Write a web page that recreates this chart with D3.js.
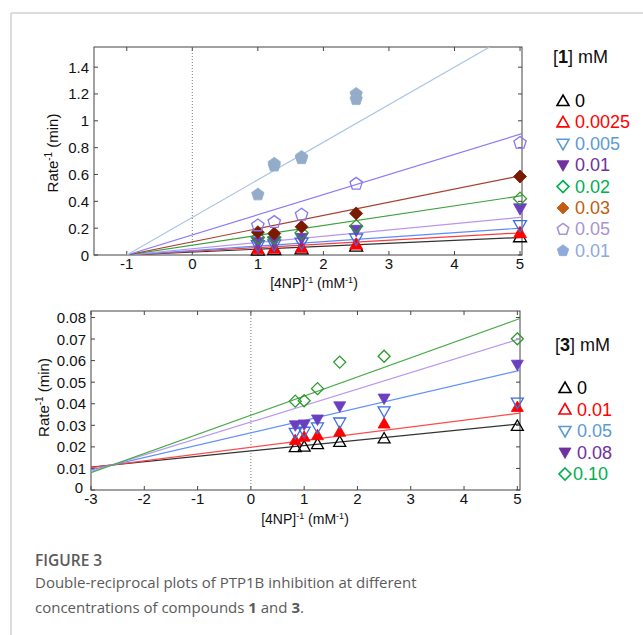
<!DOCTYPE html>
<html>
<head>
<meta charset="utf-8">
<script src="https://cdn.jsdelivr.net/npm/d3@7"></script>
<style>
  body { margin: 0; background: #fff; }
  svg { display: block; }
</style>
</head>
<body>
<svg id="chart" width="643" height="635"></svg>
<script>
// ---- data: upper panel, compound 1 ----
const xTop = [1, 1.25, 1.667, 2.5, 5];
const top_0 = [0.035, 0.04, 0.045, 0.065, 0.135];
const top_0025 = [0.045, 0.05, 0.056, 0.08, 0.165];
const top_005 = [0.07, 0.077, 0.09, 0.12, 0.22];
const top_01 = [0.095, 0.1, 0.125, 0.185, 0.345];
const top_02 = [0.13, 0.13, 0.165, 0.215, 0.42];
const top_03 = [0.17, 0.16, 0.21, 0.31, 0.585];
const top_05 = [0.22, 0.245, 0.3, 0.53, 0.835];
const top_01b = [0.45, 0.665, 0.72, 1.16, null];
const top_01b_rep = [null, 0.68, 0.73, 1.2, null];
const topLabels = ["0", "0.0025", "0.005", "0.01", "0.02", "0.03", "0.05", "0.01"];
const topSlopes = [0.0217, 0.0275, 0.0333, 0.0467, 0.0733, 0.0983, 0.15, 0.28]; // fits through x=-1
const topXTicks = [-1, 0, 1, 2, 3, 4, 5];
const topYTicks = [0, 0.2, 0.4, 0.6, 0.8, 1, 1.2, 1.4];

// ---- data: lower panel, compound 3 ----
const xBot = [0.833, 1, 1.25, 1.667, 2.5, 5];
const bot_0 = [0.0199, 0.0201, 0.0213, 0.0223, 0.0239, 0.0297];
const bot_01 = [0.0231, 0.0247, 0.0254, 0.027, 0.0308, 0.0385];
const bot_05 = [0.0265, 0.027, 0.029, 0.0313, 0.0365, 0.0405];
const bot_08 = [0.030, 0.0304, 0.0327, 0.0388, 0.0424, 0.0581];
const bot_10 = [0.0412, 0.0414, 0.047, 0.0593, 0.062, 0.0701];
const botLabels = ["0", "0.01", "0.05", "0.08", "0.10"];
const botIntercepts = [0.0181, 0.0198, 0.0265, 0.0315, 0.0347];
const botSlopes = [0.00249, 0.00314, 0.00574, 0.00764, 0.00888];
const botXTicks = [-3, -2, -1, 0, 1, 2, 3, 4, 5];
const botYTicks = [0, 0.01, 0.02, 0.03, 0.04, 0.05, 0.06, 0.07, 0.08];

const svg = d3.select("#chart");
const FONT = "'Liberation Sans', Arial, sans-serif";

// marker shapes
function shape(type, s) {
  if (type === "up") return `M0,${-s}L${s},${s * 0.75}L${-s},${s * 0.75}Z`;
  if (type === "down") return `M0,${s}L${s},${-s * 0.75}L${-s},${-s * 0.75}Z`;
  if (type === "diamond") return `M0,${-s}L${s},0L0,${s}L${-s},0Z`;
  if (type === "pent") {
    let p = d3.range(5).map(i => {
      let a = -Math.PI / 2 + i * 2 * Math.PI / 5;
      return [s * Math.cos(a), s * Math.sin(a)];
    });
    return "M" + p.map(d => d.join(",")).join("L") + "Z";
  }
}

// frame of the figure card
svg.append("line").attr("x1", 11).attr("x2", 643).attr("y1", 13).attr("y2", 13)
  .attr("stroke", "#dcdcdc").attr("stroke-width", 2);
svg.append("line").attr("x1", 11).attr("x2", 11).attr("y1", 13).attr("y2", 635)
  .attr("stroke", "#dcdcdc").attr("stroke-width", 2);

function panel(cfg) {
  const x = d3.scaleLinear().domain(cfg.xDomain).range([cfg.left, cfg.right]);
  const y = d3.scaleLinear().domain(cfg.yDomain).range([cfg.bottom, cfg.top]);
  const g = svg.append("g");
  const clipId = "clip" + cfg.id;
  svg.append("clipPath").attr("id", clipId).append("rect")
    .attr("x", cfg.left).attr("y", cfg.top)
    .attr("width", cfg.right - cfg.left).attr("height", cfg.bottom - cfg.top);

  // box
  g.append("rect").attr("x", cfg.left).attr("y", cfg.top)
    .attr("width", cfg.right - cfg.left).attr("height", cfg.bottom - cfg.top)
    .attr("fill", "none").attr("stroke", "#444").attr("stroke-width", 1);

  // ticks, inside on all sides
  const tk = 4;
  cfg.xTicks.forEach(t => {
    g.append("line").attr("x1", x(t)).attr("x2", x(t)).attr("y1", cfg.bottom).attr("y2", cfg.bottom - tk).attr("stroke", "#444");
    g.append("line").attr("x1", x(t)).attr("x2", x(t)).attr("y1", cfg.top).attr("y2", cfg.top + tk).attr("stroke", "#444");
    g.append("text").attr("x", x(t)).attr("y", cfg.bottom + 14).attr("text-anchor", "middle")
      .attr("font-family", FONT).attr("font-size", 15).attr("fill", "#111").text(t);
  });
  cfg.yTicks.forEach(t => {
    g.append("line").attr("x1", cfg.left).attr("x2", cfg.left + tk).attr("y1", y(t)).attr("y2", y(t)).attr("stroke", "#444");
    g.append("line").attr("x1", cfg.right).attr("x2", cfg.right - tk).attr("y1", y(t)).attr("y2", y(t)).attr("stroke", "#444");
    // the zero label sits just above the corner so it clears the first x label
    let dx = (t === 0 && cfg.zeroShift) ? -3 : 0;
    let dy = (t === 0 && cfg.zeroShift) ? 3 : 5.5;
    g.append("text").attr("x", cfg.left - 5 + dx).attr("y", y(t) + dy).attr("text-anchor", "end")
      .attr("font-family", FONT).attr("font-size", 15).attr("fill", "#111").text(t);
  });

  // dotted line at x = 0
  g.append("line").attr("x1", x(0)).attr("x2", x(0)).attr("y1", cfg.bottom).attr("y2", cfg.top)
    .attr("stroke", "#777").attr("stroke-width", 1).attr("stroke-dasharray", "1,2");

  // fitted lines
  const lg = g.append("g").attr("clip-path", `url(#${clipId})`);
  cfg.fits.forEach(f => {
    lg.append("line")
      .attr("x1", x(f.x0)).attr("y1", y(f.a + f.b * f.x0))
      .attr("x2", x(f.x1)).attr("y2", y(f.a + f.b * f.x1))
      .attr("stroke", f.color).attr("stroke-width", 1.2);
  });

  // points
  cfg.series.forEach(s => {
    s.values.forEach((v, i) => {
      if (v == null) return;
      g.append("path").attr("d", shape(s.shape, s.size || 5))
        .attr("transform", `translate(${x(cfg.xs[i])},${y(v)})`)
        .attr("fill", s.filled ? s.color : "none")
        .attr("stroke", s.color).attr("stroke-width", s.filled ? 0.8 : 1.3);
    });
  });

  // axis titles
  const yl = g.append("text").attr("transform", `translate(${cfg.yLabelX},${(cfg.top + cfg.bottom) / 2 + cfg.yLabelDy}) rotate(-90)`)
    .attr("text-anchor", "middle").attr("font-family", FONT).attr("font-size", 15).attr("fill", "#111");
  yl.append("tspan").text("Rate");
  yl.append("tspan").attr("font-size", 10).attr("dy", -6).text("-1");
  yl.append("tspan").attr("dy", 6).text(" (min)");

  const xl = g.append("text").attr("x", cfg.xLabelX).attr("y", cfg.xLabelY)
    .attr("text-anchor", "middle").attr("font-family", FONT).attr("font-size", 14).attr("fill", "#111");
  xl.append("tspan").text("[4NP]");
  xl.append("tspan").attr("font-size", 9).attr("dy", -5).text("-1");
  xl.append("tspan").attr("dy", 5).text(" (mM");
  xl.append("tspan").attr("font-size", 9).attr("dy", -5).text("-1");
  xl.append("tspan").attr("dy", 5).text(")");

  // legend
  const lgd = g.append("g");
  const head = lgd.append("text").attr("x", cfg.legX).attr("y", cfg.legTitleY)
    .attr("font-family", FONT).attr("font-size", 18).attr("fill", "#111");
  head.append("tspan").text("[");
  head.append("tspan").attr("font-weight", "bold").text(cfg.compound);
  head.append("tspan").text("] mM");
  cfg.legend.forEach((e, i) => {
    const yy = cfg.legY0 + i * cfg.legStep;
    lgd.append("path").attr("d", shape(e.shape, e.size || 6))
      .attr("transform", `translate(${cfg.legX + 10},${yy - 6})`)
      .attr("fill", e.filled ? e.color : "none").attr("stroke", e.color)
      .attr("stroke-width", e.filled ? 0.8 : 1.6);
    lgd.append("text").attr("x", cfg.legX + 22 + (e.dx || 0)).attr("y", yy)
      .attr("font-family", FONT).attr("font-size", 18).attr("fill", e.color).text(e.label);
  });
}

// upper panel
const topPlotColors = ["#000000", "#ff0000", "#3b6fe0", "#6a40c0", "#2a9a2a", "#7a1a00", "#8878f0", "#93acc9"];
const topLineColors = ["#333333", "#ff3a3a", "#5a8cff", "#b896f0", "#3aa03a", "#a5402c", "#8a7cf8", "#aac6e6"];
const topLegendColors = ["#000000", "#ff0000", "#5b9bd5", "#7030a0", "#00b050", "#c55a11", "#a794d4", "#8eaadb"];
const topShapes = ["up", "up", "down", "down", "diamond", "diamond", "pent", "pent"];
const topFilled = [false, true, false, true, false, true, false, true];
const topLegendFilled = [false, false, false, true, false, true, false, true];
const topVals = [top_0, top_0025, top_005, top_01, top_02, top_03, top_05, top_01b];

const topSeries = topVals.map((v, i) => ({ values: v, shape: topShapes[i], filled: topFilled[i], color: topPlotColors[i], size: 6.5 }));
topSeries.push({ values: top_01b_rep, shape: "pent", filled: true, color: topPlotColors[7], size: 6.5 });

panel({
  id: "top",
  xDomain: [-1.5, 5.03], yDomain: [0, 1.55],
  left: 94, right: 522, top: 47, bottom: 255,
  xTicks: topXTicks, yTicks: topYTicks, xs: xTop,
  series: topSeries,
  fits: topSlopes.map((b, i) => ({ a: b, b: b, x0: -1, x1: 5.03, color: topLineColors[i] })),
  yLabelX: 58, yLabelDy: 2, xLabelX: 314, xLabelY: 288,
  compound: "1", legX: 553, legTitleY: 63, legY0: 107, legStep: 21.4,
  legend: topLabels.map((l, i) => ({ label: l, shape: topShapes[i], filled: topLegendFilled[i], color: topLegendColors[i] }))
});

// lower panel
const botPlotColors = ["#000000", "#ff0000", "#3b6fe0", "#6a40c0", "#2a9a2a"];
const botLineColors = ["#333333", "#ff4a4a", "#6090ff", "#b898f0", "#4aac4a"];
const botLegendColors = ["#000000", "#ff0000", "#5b9bd5", "#7030a0", "#00b050"];
const botShapes = ["up", "up", "down", "down", "diamond"];
const botFilled = [false, true, false, true, false];
const botLegendFilled = [false, false, false, true, false];
const botVals = [bot_0, bot_01, bot_05, bot_08, bot_10];

panel({
  id: "bot",
  xDomain: [-3, 5.05], yDomain: [0, 0.083],
  left: 91, right: 520, top: 311, bottom: 490,
  xTicks: botXTicks, yTicks: botYTicks, xs: xBot, zeroShift: true,
  series: botVals.map((v, i) => ({ values: v, shape: botShapes[i], filled: botFilled[i], color: botPlotColors[i], size: 6 })),
  fits: botSlopes.map((b, i) => ({ a: botIntercepts[i], b: b, x0: -3, x1: 5.05, color: botLineColors[i] })),
  yLabelX: 49, yLabelDy: -3, xLabelX: 305, xLabelY: 524,
  compound: "3", legX: 555, legTitleY: 351, legY0: 394, legStep: 21.5,
  legend: botLabels.map((l, i) => ({ label: l, shape: botShapes[i], filled: botLegendFilled[i], color: botLegendColors[i], dx: i === 4 ? -4 : 0 }))
});

// caption
const CAP = "'Open Sans', 'Noto Sans', sans-serif";
svg.append("text").attr("x", 35).attr("y", 566).attr("font-family", CAP).attr("font-size", 15.5)
  .attr("font-weight", 600).attr("fill", "#5a5a5a").text("FIGURE 3");
svg.append("text").attr("x", 35).attr("y", 588).attr("font-family", CAP).attr("font-size", 15)
  .attr("fill", "#5a5a5a").text("Double-reciprocal plots of PTP1B inhibition at different");
const c3 = svg.append("text").attr("x", 35).attr("y", 613).attr("font-family", CAP).attr("font-size", 15)
  .attr("fill", "#5a5a5a");
c3.append("tspan").text("concentrations of compounds ");
c3.append("tspan").attr("font-weight", 700).text("1");
c3.append("tspan").text(" and ");
c3.append("tspan").attr("font-weight", 700).text("3");
c3.append("tspan").text(".");
</script>
</body>
</html>
